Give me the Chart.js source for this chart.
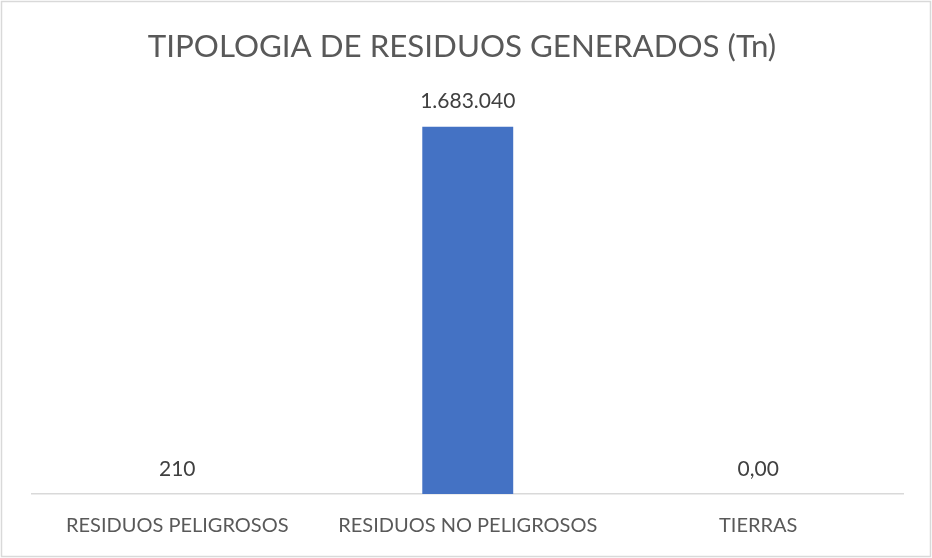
<!DOCTYPE html>
<html>
<head>
<meta charset="utf-8">
<script src="https://cdn.jsdelivr.net/npm/chart.js@4.4.0/dist/chart.umd.min.js"></script>
<style>
html,body{margin:0;padding:0;background:#fff;}
#wrap{position:absolute;left:0;top:0;width:932px;height:558px;}
</style>
</head>
<body>
<div id="wrap"><canvas id="c" width="932" height="558"></canvas></div>
<script>
const titleText = 'TIPOLOGIA DE RESIDUOS GENERADOS (Tn)';
const categories = ['RESIDUOS PELIGROSOS', 'RESIDUOS NO PELIGROSOS', 'TIERRAS'];
const values = [210, 1683040, 0];
const labelDecimals = [0, 0, 2];
const yMax = 1800000;

function fmt(v, d) {
  const parts = v.toFixed(d).split('.');
  parts[0] = parts[0].replace(/\B(?=(\d{3})+(?!\d))/g, '.');
  return parts.join(',');
}

const borderPlugin = {
  id: 'outerBorder',
  beforeDraw(chart) {
    const ctx = chart.ctx;
    ctx.save();
    ctx.fillStyle = '#ffffff';
    ctx.fillRect(0, 0, chart.width, chart.height);
    ctx.strokeStyle = '#d9d9d9';
    ctx.lineWidth = 1.5;
    ctx.strokeRect(1.5, 1.5, chart.width - 3, chart.height - 3);
    ctx.restore();
  },
  afterDraw(chart) {
    // title centred on the whole chart box (the library's title keeps the spacing)
    const t = chart.titleBlock;
    const ctx = chart.ctx;
    ctx.save();
    ctx.font = '31.3px Lato';
    ctx.fillStyle = '#595959';
    ctx.textAlign = 'center';
    ctx.textBaseline = 'middle';
    ctx.fillText(titleText, chart.width / 2 - 4, t.top + 28 + 31.3 * 1.2 / 2);
    ctx.restore();
  }
};

const labelPlugin = {
  id: 'valueLabels',
  afterDatasetsDraw(chart) {
    const ctx = chart.ctx;
    const meta = chart.getDatasetMeta(0);
    ctx.save();
    ctx.font = '21px Lato';
    ctx.fillStyle = '#404040';
    ctx.textAlign = 'center';
    ctx.textBaseline = 'middle';
    meta.data.forEach((bar, i) => {
      ctx.fillText(fmt(values[i], labelDecimals[i]), bar.x, bar.y - 25);
    });
    ctx.restore();
  }
};

new Chart(document.getElementById('c'), {
  type: 'bar',
  data: {
    labels: categories,
    datasets: [{
      data: values,
      backgroundColor: '#4472C4',
      borderWidth: 0,
      barPercentage: 0.313,
      categoryPercentage: 1.0
    }]
  },
  options: {
    responsive: false,
    animation: false,
    events: [],
    layout: { padding: { left: 32, right: 28.5, top: 0, bottom: 0 } },
    plugins: {
      legend: { display: false },
      tooltip: { enabled: false },
      title: {
        display: true,
        text: titleText,
        color: 'rgba(0,0,0,0)',
        font: { family: 'Lato', size: 31, weight: 'normal', lineHeight: 1.2 },
        padding: { top: 28, bottom: 36 }
      }
    },
    scales: {
      x: {
        grid: { display: false, drawTicks: false },
        border: { display: true, color: '#d9d9d9', width: 1.5 },
        ticks: {
          color: '#595959',
          font: { family: 'Lato', size: 20, lineHeight: 1.2 },
          padding: 20,
          maxRotation: 0,
          autoSkip: false
        },
        afterFit(scale) { scale.height = 64; }
      },
      y: {
        display: false,
        min: 0,
        max: yMax
      }
    }
  },
  plugins: [borderPlugin, labelPlugin]
});
</script>
</body>
</html>
